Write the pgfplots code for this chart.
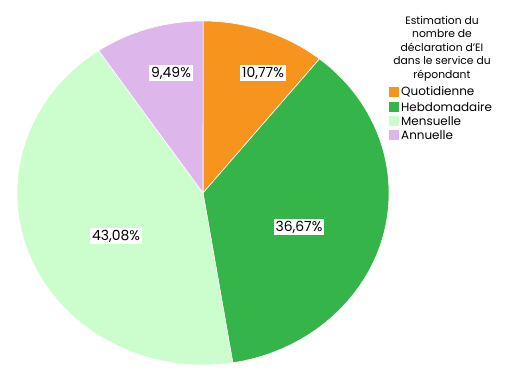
\documentclass[border=0pt]{standalone}
\usepackage{pgfplots}
\pgfplotsset{compat=1.18}
\usepackage{fontspec}
\setmainfont{Poppins}
\definecolor{cQ}{RGB}{247,148,30}
\definecolor{cH}{RGB}{53,180,74}
\definecolor{cM}{RGB}{204,253,204}
\definecolor{cA}{RGB}{221,182,236}
% shares (percent)
\def\vQ{10.77}\def\vH{36.67}\def\vM{43.08}\def\vA{9.49}
\pgfmathsetmacro\aZ{90}
\pgfmathsetmacro\aQ{\aZ-3.6*\vQ}
\pgfmathsetmacro\aH{\aQ-3.6*\vH}
\pgfmathsetmacro\aM{\aH-3.6*\vM}
\pgfmathsetmacro\aA{\aM-3.6*\vA}
\def\cx{203}\def\cy{175}\def\rx{186}\def\ry{172}
\newcommand\sector[3]{%
  \fill[#3,draw=white,line width=0.6bp] (axis cs:\cx,\cy) -- (axis cs:{\cx+\rx*cos(#1)},{\cy+\ry*sin(#1)})
    arc[start angle=#1,end angle=#2,x radius=\rx bp,y radius=\ry bp] -- cycle;}
\newcommand\legitem[3]{%
  \fill[#2] (axis cs:389,#1-5) rectangle (axis cs:399,#1+5);
  \node[anchor=west, inner sep=0pt, font=\fontsize{12}{12}\selectfont] at (axis cs:401,#1) {#3};}
\newcommand\plabel[3]{%
  \node[fill=white, inner sep=2bp, font=\fontsize{14}{14}\selectfont] at (axis cs:#1,#2) {#3};}
\begin{document}
\begin{tikzpicture}
\begin{axis}[hide axis, scale only axis, width=507bp, height=368bp,
  xmin=0, xmax=507, ymin=0, ymax=368, enlargelimits=false, clip=false]
\path (axis cs:0,0) rectangle (axis cs:507,368);
\sector{\aZ}{\aQ}{cQ}
\sector{\aQ}{\aH}{cH}
\sector{\aH}{\aM}{cM}
\sector{\aM}{\aA}{cA}
\plabel{263}{295}{10,77\%}
\plabel{299}{141}{36,67\%}
\plabel{116}{132}{43,08\%}
\plabel{171}{295}{9,49\%}
\node[align=center, font=\fontsize{10.8}{13.5}\selectfont, anchor=north, inner sep=0pt] at (axis cs:442,352) {Estimation du\\nombre de\\déclaration d'EI\\dans le service du\\répondant};
\legitem{276}{cQ}{Quotidienne}
\legitem{261}{cH}{Hebdomadaire}
\legitem{247}{cM}{Mensuelle}
\legitem{233}{cA}{Annuelle}
\end{axis}
\end{tikzpicture}
\end{document}
